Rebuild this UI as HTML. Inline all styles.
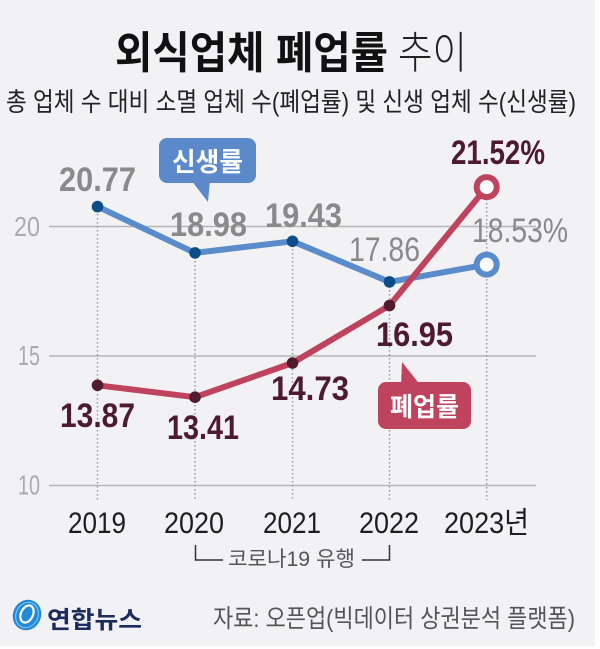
<!DOCTYPE html>
<html><head><meta charset="utf-8"><style>
html,body{margin:0;padding:0;background:#fff;}
svg{display:block;}
text{font-family:"Liberation Sans","Noto Sans CJK KR",sans-serif;}
</style></head><body>
<svg width="600" height="649" viewBox="0 0 600 649" xmlns="http://www.w3.org/2000/svg">
<rect x="0" y="0" width="600" height="649" fill="#ffffff"/>
<rect x="0" y="0" width="595" height="646" fill="#f2f2f4"/>

<!-- Title -->
<text x="115" y="68" font-size="44" font-weight="bold" fill="#111" textLength="273" lengthAdjust="spacingAndGlyphs">외식업체 폐업률</text>
<text x="398" y="68" font-size="44" font-weight="300" fill="#222" textLength="69" lengthAdjust="spacingAndGlyphs">추이</text>
<text x="6" y="111" font-size="26" fill="#222" textLength="570" lengthAdjust="spacingAndGlyphs">총 업체 수 대비 소멸 업체 수(폐업률) 및 신생 업체 수(신생률)</text>

<!-- Grid -->
<g stroke="#b5b5b5" stroke-width="1.5">
<line x1="49" y1="226.5" x2="536" y2="226.5"/>
<line x1="49" y1="356" x2="536" y2="356"/>
<line x1="49" y1="485.5" x2="536" y2="485.5"/>
</g>
<g font-size="28" fill="#ababab">
<text x="14" y="236" textLength="26" lengthAdjust="spacingAndGlyphs">20</text>
<text x="18" y="365" textLength="22" lengthAdjust="spacingAndGlyphs">15</text>
<text x="18" y="494.5" textLength="22" lengthAdjust="spacingAndGlyphs">10</text>
</g>

<!-- dotted verticals -->
<g stroke="#9a9a9a" stroke-width="1.5" stroke-dasharray="1.5 2.5">
<line x1="97.5" y1="206" x2="97.5" y2="500"/>
<line x1="195" y1="253" x2="195" y2="500"/>
<line x1="292.5" y1="241" x2="292.5" y2="500"/>
<line x1="389.5" y1="282" x2="389.5" y2="500"/>
<line x1="486.7" y1="187" x2="486.7" y2="500"/>
</g>

<!-- Blue line -->
<polyline points="97.5,206.6 195,252.9 292.5,241.3 389.5,281.9 486.7,264.6" fill="none" stroke="#5a8bcb" stroke-width="6" stroke-linejoin="round"/>
<g fill="#0c4c8a">
<circle cx="97.5" cy="206.6" r="5.8"/>
<circle cx="195" cy="252.9" r="5.8"/>
<circle cx="292.5" cy="241.3" r="5.8"/>
<circle cx="389.5" cy="281.9" r="5.8"/>
</g>
<circle cx="486.7" cy="264.6" r="10" fill="#fff" stroke="#5a8bcb" stroke-width="6"/>

<!-- Red line -->
<polyline points="97.5,385.3 195,397.2 292.5,363 389.5,305.5 486.7,187.1" fill="none" stroke="#c0435e" stroke-width="6" stroke-linejoin="round"/>
<g fill="#521a2e">
<circle cx="97.5" cy="385.3" r="5.8"/>
<circle cx="195" cy="397.2" r="5.8"/>
<circle cx="292.5" cy="363" r="5.8"/>
<circle cx="389.5" cy="305.5" r="5.8"/>
</g>
<circle cx="486.7" cy="187.1" r="10" fill="#fff" stroke="#c0435e" stroke-width="6"/>

<!-- Blue values -->
<g font-size="34" fill="#8a8a8a">
<text x="59" y="191" font-weight="bold" textLength="77" lengthAdjust="spacingAndGlyphs">20.77</text>
<text x="170" y="236" font-weight="bold" textLength="77" lengthAdjust="spacingAndGlyphs">18.98</text>
<text x="265" y="227" font-weight="bold" textLength="77" lengthAdjust="spacingAndGlyphs">19.43</text>
<text x="349" y="261" textLength="71" lengthAdjust="spacingAndGlyphs">17.86</text>
<text x="472" y="242" textLength="96" lengthAdjust="spacingAndGlyphs">18.53%</text>
</g>
<!-- Red values -->
<g font-size="34" fill="#4e1a2d" font-weight="bold">
<text x="451" y="164" textLength="94" lengthAdjust="spacingAndGlyphs">21.52%</text>
<text x="376" y="346" textLength="77" lengthAdjust="spacingAndGlyphs">16.95</text>
<text x="271" y="400" textLength="78" lengthAdjust="spacingAndGlyphs">14.73</text>
<text x="60" y="427" textLength="75" lengthAdjust="spacingAndGlyphs">13.87</text>
<text x="167" y="439" textLength="72" lengthAdjust="spacingAndGlyphs">13.41</text>
</g>

<!-- Callouts -->
<rect x="159" y="138" width="97" height="45" rx="8" fill="#5b89c9"/>
<polygon points="191,180 210,180 208,202" fill="#5b89c9"/>
<text x="172" y="171" font-size="26" font-weight="bold" fill="#fff" textLength="71" lengthAdjust="spacingAndGlyphs">신생률</text>

<rect x="378" y="382" width="93" height="47" rx="8" fill="#c0435e"/>
<polygon points="401,386 421,386 402,362" fill="#c0435e"/>
<text x="390" y="416" font-size="26" font-weight="bold" fill="#fff" textLength="69" lengthAdjust="spacingAndGlyphs">폐업률</text>

<!-- Year labels -->
<g font-size="30" fill="#1e1e1e">
<text x="68" y="533" textLength="58" lengthAdjust="spacingAndGlyphs">2019</text>
<text x="164" y="533" textLength="60" lengthAdjust="spacingAndGlyphs">2020</text>
<text x="263" y="533" textLength="58" lengthAdjust="spacingAndGlyphs">2021</text>
<text x="359" y="533" textLength="60" lengthAdjust="spacingAndGlyphs">2022</text>
<text x="444" y="533" textLength="85" lengthAdjust="spacingAndGlyphs">2023년</text>
</g>

<!-- Covid bracket -->
<path d="M195.5 545 V560 H223" fill="none" stroke="#333" stroke-width="1.5"/>
<path d="M362 560 H389.5 V545" fill="none" stroke="#333" stroke-width="1.5"/>
<text x="228" y="566" font-size="21" fill="#555" textLength="127" lengthAdjust="spacingAndGlyphs">코로나19 유행</text>

<!-- Logo -->
<ellipse cx="27" cy="615" rx="14" ry="15.5" fill="#2288d8" transform="rotate(25 27 615)"/>
<ellipse cx="27" cy="614" rx="6" ry="9" fill="none" stroke="#ffffff" stroke-width="2.2" transform="rotate(25 27 614)"/>
<ellipse cx="27" cy="615" rx="11" ry="13" fill="none" stroke="#7cc0f0" stroke-width="1.2" transform="rotate(25 27 615)"/>
<text x="47" y="628" font-size="24" font-weight="bold" fill="#1b2c5e" textLength="95" lengthAdjust="spacingAndGlyphs">연합뉴스</text>

<!-- Source -->
<text x="213" y="627" font-size="25" fill="#555" textLength="362" lengthAdjust="spacingAndGlyphs">자료: 오픈업(빅데이터 상권분석 플랫폼)</text>
</svg>
</body></html>
